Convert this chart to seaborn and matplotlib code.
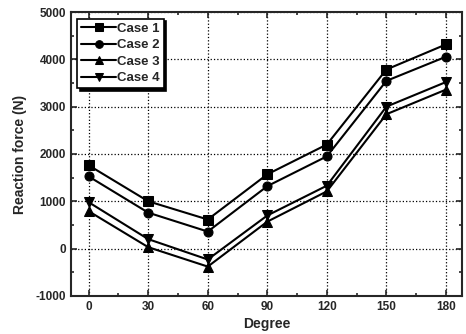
import pandas as pd
import numpy as np
import matplotlib
matplotlib.use("Agg")
import matplotlib.pyplot as plt
import seaborn as sns
from matplotlib.ticker import MultipleLocator

degree = [0, 30, 60, 90, 120, 150, 180]
case1 = [1760, 1000, 615, 1570, 2200, 3785, 4315]
case2 = [1525, 760, 360, 1320, 1950, 3545, 4055]
case3 = [790, 30, -380, 570, 1210, 2840, 3360]
case4 = [980, 200, -230, 700, 1330, 3000, 3520]
cases = ['Case 1', 'Case 2', 'Case 3', 'Case 4']

df = pd.DataFrame({
    'Degree': degree * 4,
    'Force': case1 + case2 + case3 + case4,
    'Case': np.repeat(cases, len(degree)),
})

sns.set_style("ticks")
plt.rcParams['font.family'] = ['Liberation Sans', 'DejaVu Sans']
plt.rcParams['font.weight'] = 'bold'
plt.rcParams['axes.unicode_minus'] = False

fig = plt.figure(figsize=(4.66, 3.34), dpi=100)
ax = fig.add_axes([0.152, 0.114, 0.839, 0.85])

sns.lineplot(data=df, x='Degree', y='Force', hue='Case', style='Case',
             palette=['black'] * 4, markers=['s', 'o', '^', 'v'], dashes=False,
             markersize=6.5, linewidth=1.5, markeredgecolor='black', ax=ax)

ax.set_xlim(-9, 188)
ax.set_ylim(-1000, 5000)
ax.set_xticks(degree)
ax.xaxis.set_minor_locator(MultipleLocator(15))
ax.yaxis.set_major_locator(MultipleLocator(1000))
ax.yaxis.set_minor_locator(MultipleLocator(500))
ax.grid(True, which='major', linestyle=':', color='black', linewidth=0.9)
ax.tick_params(which='both', direction='in', top=True, right=True, labelsize=8.5, width=1.2)
ax.tick_params(which='major', length=4)
ax.tick_params(which='minor', length=2)
for s in ax.spines.values():
    s.set_linewidth(1.5)
    s.set_visible(True)
ax.set_xlabel('Degree', fontsize=10, fontweight='bold', labelpad=3)
ax.set_ylabel('Reaction force (N)', fontsize=10, fontweight='bold', labelpad=6)

leg = ax.legend(loc='upper left', fontsize=9.5, frameon=True,
                shadow={'color': 'black', 'alpha': 1}, fancybox=False,
                handlelength=2.6, borderpad=0.3, labelspacing=0.32, handletextpad=0.1,
                borderaxespad=0.5, markerscale=0.85)
leg.get_frame().set_edgecolor('black')
leg.get_frame().set_linewidth(1.2)
leg.get_frame().set_alpha(1)

fig.savefig('out.png', dpi=100)
